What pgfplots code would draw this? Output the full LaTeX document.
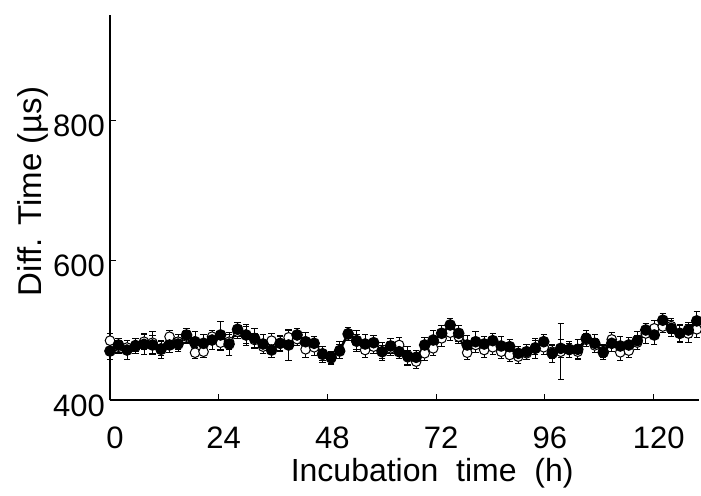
\documentclass[border=0pt]{standalone}
\usepackage{fontspec}
\setmainfont{Liberation Sans}
\usepackage{pgfplots}
\usepackage{pgfplotstable}
\pgfplotsset{compat=1.18}
\pgfplotstableread{
x f fe o oe
0 470 12 484.8 10
1.88 478.6 10 476 9
3.75 471.4 13 475 10
5.63 477 11 478.6 9
7.51 479.5 15 483.3 11
9.39 478.6 14 481.9 16
11.26 472.4 13 473.8 10
13.14 478.6 11 490.5 9
15.02 480 10 483.3 11
16.89 492.9 10 490.5 9
18.77 483.3 15 467.6 8
20.65 481 13 469 8
22.52 485.7 14 490.5 9
24.40 492.9 20 481.9 11
26.28 480 17 483.3 11
28.16 501 10 497.6 9
30.03 492.9 15 492.9 12
31.91 488 14 485.7 10
33.79 480 13 476.2 10
35.66 471.4 11 484.8 10
37.54 481 10 481 11
39.42 478.6 22 489.5 10
41.29 492.9 9 487 9
43.17 483.3 13 472.4 11
45.05 481 10 475.3 11
46.93 465.3 11 466.7 10
48.80 461 9 459.5 9
50.68 470 10 471.4 12
52.56 494.3 9 495.3 8
54.43 484.8 15 483.3 11
56.31 480 13 471.4 10
58.19 481.9 11 476.2 9
60.06 469 13 469 9
61.94 477.2 11 473.8 10
63.82 469 10 478.6 11
65.70 462.9 13 461 10
67.57 461 10 454.8 9
69.45 478.6 11 466.7 10
71.33 485.7 13 473.8 10
73.20 495.3 11 488.1 11
75.08 507.2 10 496.2 11
76.96 495.3 11 490.5 10
78.83 478.6 13 467.6 10
80.71 483.3 15 478.6 11
82.59 480 11 471.4 10
84.47 484.8 11 475.3 10
86.34 477.2 13 469 9
88.22 476.2 11 464.3 9
90.10 466.7 10 461.9 9
91.97 469 11 466.7 9
93.85 473.8 14 475.3 10
95.73 483.3 11 475.3 10
97.60 466.7 13 469 9
99.48 473.8 13 469 40
101.36 472.4 11 471.4 10
103.24 472.4 14 469 10
105.11 488.1 11 486 9
106.99 481 13 478 10
108.87 468.1 10 470 9
110.74 481 11 486.6 10
112.62 477.2 13 468.1 11
114.50 478.6 11 470.5 10
116.37 484.8 13 482 10
118.25 500 10 495 14
120.13 492.9 13 502.4 11
122.01 514 10 505 9
123.88 502.4 11 505.6 11
125.76 495.3 13 495 11
127.64 500 11 495 13
129.51 513 13 501 11
}\datatable
\begin{document}
\begin{tikzpicture}
\useasboundingbox (-55pt,-47.5pt) rectangle (295.5pt,200pt);
\begin{axis}[
  at={(0,0)}, anchor=south west,
  width=294.5pt, height=192.5pt, scale only axis,
  xmin=0, xmax=130, ymin=400, ymax=950,
  axis lines*=left,
  axis line style={black, line width=0.6pt},
  xtick={0,24,48,72,96,120}, ytick={400,600,800},
  tick align=inside, major tick length=3pt,
  tick style={black, line width=0.5pt},
  /pgf/number format/assume math mode=true,
  tick label style={font=\fontsize{15.5}{18}\selectfont},
  xticklabel style={yshift=-10pt, xshift=2.5pt},
  yticklabel style={yshift=-3pt, xshift=1pt},
  xlabel={Incubation~~time~~(h)},
  ylabel={Diff. Time (µs)},
  xlabel style={font=\fontsize{16}{19}\selectfont, at={(axis description cs:0.547,-0.2104)}, anchor=base},
  ylabel style={font=\fontsize{16.5}{19}\selectfont, at={(axis description cs:-0.116,0.5416)}, anchor=base},
  clip=false,
]
\addplot[black, line width=1pt, mark=*, mark size=2.4pt,
  mark options={solid, fill=white, line width=0.5pt},
  error bars/.cd, y dir=both, y explicit,
  error bar style={black, line width=0.45pt},
  error mark options={rotate=90, mark size=1.6pt, line width=0.45pt}]
  table[x=x, y=o, y error=oe] {\datatable};
\addplot[black, line width=1pt, mark=*, mark size=2.4pt,
  mark options={solid, fill=black},
  error bars/.cd, y dir=both, y explicit,
  error bar style={black, line width=0.45pt},
  error mark options={rotate=90, mark size=1.6pt, line width=0.45pt}]
  table[x=x, y=f, y error=fe] {\datatable};
\end{axis}
\end{tikzpicture}
\end{document}
